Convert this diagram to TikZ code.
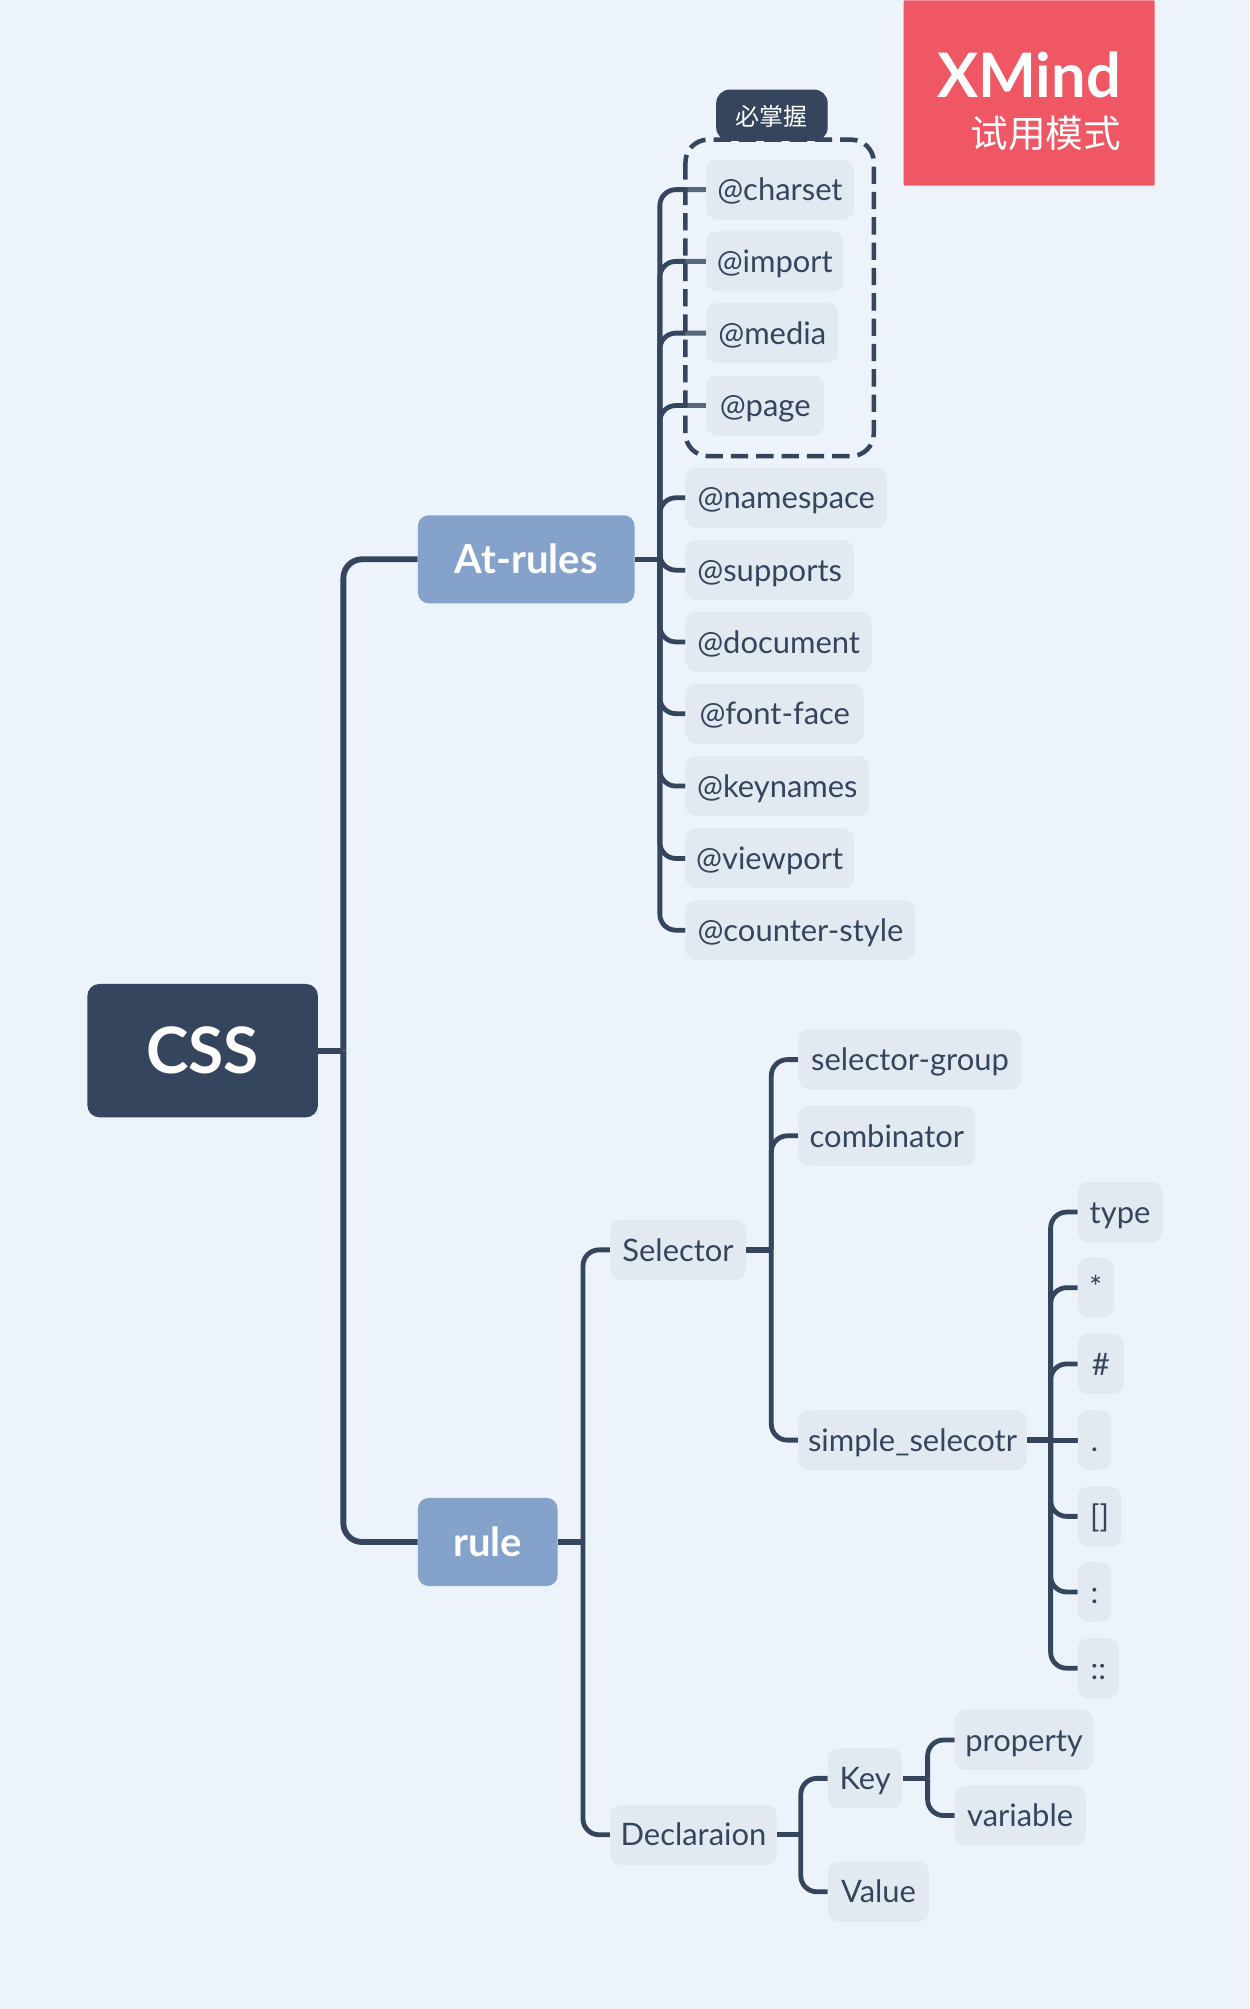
\documentclass[tikz,border=0pt]{standalone}
\usepackage{fontspec}
\setmainfont{Lato}
\newfontfamily\cjk{Noto Sans CJK SC}
\usepackage{tikz}
\usetikzlibrary{backgrounds}
\definecolor{MapPage}{HTML}{ECF3FA}
\definecolor{MapDark}{HTML}{34455D}
\definecolor{MapBlue}{HTML}{85A2CA}
\definecolor{MapTopic}{HTML}{E3E9F0}
\definecolor{MapRed}{HTML}{EE5763}
\tikzset{
    % Root topic style
    rootnode/.style={
        fill=MapDark,
        text=white,
        rounded corners=9pt,
        anchor=west,
        minimum height=100pt,
        font=\fontsize{48}{48}\selectfont\bfseries
    },
    % Main branch style
    branchnode/.style={
        fill=MapBlue,
        text=white,
        rounded corners=8pt,
        anchor=west,
        minimum height=66pt,
        font=\fontsize{30}{30}\selectfont\bfseries
    },
    % Small topic style
    topicnode/.style={
        fill=MapTopic,
        text=MapDark,
        rounded corners=8pt,
        anchor=west,
        inner xsep=0pt,
        minimum height=45pt,
        text height=19pt,
        text depth=2.2pt,
        font=\fontsize{23.2}{23.2}\selectfont
    },
    % Connector from a parent to its trunk
    stubline/.style={
        line width=4pt,
        draw=MapDark
    },
    % Connector from a trunk to a child
    branchline/.style={
        line width=3.6pt,
        draw=MapDark,
        rounded corners=12pt
    }
}
\begin{document}
\begin{tikzpicture}[x=0.9607pt,y=-0.9607pt]
    \useasboundingbox (0,0) rectangle (975,1568);

    % Root and main branches
    \node[rootnode,minimum width=172.9pt] (css) at (68,820) {CSS};
    \node[branchnode,minimum width=162.4pt] (atrules) at (326,436.5) {At-rules};
    \node[branchnode,minimum width=104.7pt] (rule) at (326,1203.5) {rule};

    % At-rules, marked group
    \node[topicnode,minimum width=110.5pt] (charset) at (551,148) {@charset};
    \node[topicnode,minimum width=102.8pt] (import) at (551,204) {@import};
    \node[topicnode,minimum width=99pt] (media) at (551,260) {@media};
    \node[topicnode,minimum width=88.4pt] (page) at (551,316.5) {@page};

    % At-rules, others
    \node[topicnode,minimum width=150.8pt] (namespace) at (535,388.5) {@namespace};
    \node[topicnode,minimum width=125.9pt] (supports) at (535,445) {@supports};
    \node[topicnode,minimum width=139.3pt] (document) at (535,501) {@document};
    \node[topicnode,minimum width=133.5pt] (fontface) at (535,557) {@font-face};
    \node[topicnode,minimum width=137.4pt] (keynames) at (535,613.5) {@keynames};
    \node[topicnode,minimum width=125.9pt] (viewport) at (535,670) {@viewport};
    \node[topicnode,minimum width=172pt] (counterstyle) at (535,726) {@counter-style};

    % rule, level 2
    \node[topicnode,minimum width=101.8pt] (selector) at (476,975.5) {Selector};
    \node[topicnode,minimum width=124.9pt] (declaraion) at (476,1432) {Declaraion};

    % Selector, level 3
    \node[topicnode,minimum width=167.2pt] (selectorgroup) at (623,827) {selector-group};
    \node[topicnode,minimum width=132.6pt] (combinator) at (623,886.5) {combinator};
    \node[topicnode,minimum width=171pt] (simple) at (623,1124) {simple\_selecotr};

    % simple_selecotr, level 4
    \node[topicnode,minimum width=63.4pt] (type) at (841,946) {type};
    \node[topicnode,minimum width=26.9pt] (universal) at (841,1005) {*};
    \node[topicnode,minimum width=34.6pt] (hash) at (841,1064.5) {\#};
    \node[topicnode,minimum width=25pt] (dot) at (841,1124) {.};
    \node[topicnode,minimum width=32.7pt] (brackets) at (841,1183.5) {[]};
    \node[topicnode,minimum width=25pt] (colon) at (841,1242.5) {:};
    \node[topicnode,minimum width=30.7pt] (dcolon) at (841,1302) {::};

    % Declaraion, level 3
    \node[topicnode,minimum width=55.7pt] (key) at (646,1388) {Key};
    \node[topicnode,minimum width=75.9pt] (value) at (646,1476.5) {Value};

    % Key, level 4
    \node[topicnode,minimum width=103.8pt] (property) at (745,1358) {property};
    \node[topicnode,minimum width=98pt] (variable) at (745,1417) {variable};

    % Watermark
    \node[fill=MapRed,rounded corners=1pt,minimum width=188.3pt,minimum height=139pt,anchor=north west,inner sep=0pt] (mark) at (705,0) {};
    \node[text=white,anchor=base east,inner sep=0pt,font=\fontsize{46}{46}\selectfont\bfseries] (markname) at (875,76) {XMind};
    \node[text=white,anchor=base east,inner sep=0pt,font=\fontsize{28.2}{28.2}\cjk] (marktext) at (875,115.5) {试用模式};

    % Trunks
    \coordinate (csstrunk) at (268,820);
    \coordinate (attrunk) at (515,436.5);
    \coordinate (ruletrunk) at (455,1203.5);
    \coordinate (seltrunk) at (602,975.5);
    \coordinate (simpletrunk) at (820,1124);
    \coordinate (decltrunk) at (625,1432);
    \coordinate (keytrunk) at (724,1388);

    \begin{scope}[on background layer]
        \fill[MapPage] (0,0) rectangle (975,1568);

        % Arrows
        \draw[stubline,line width=4.4pt] (css.east) -- (csstrunk);
        \draw[stubline,line width=4.4pt,rounded corners=14pt] (csstrunk) |- (atrules.west);
        \draw[stubline,line width=4.4pt,rounded corners=14pt] (csstrunk) |- (rule.west);

        \draw[stubline] (atrules.east) -- (attrunk);
        \draw[branchline] (attrunk) |- (charset.west);
        \draw[branchline] (attrunk) |- (import.west);
        \draw[branchline] (attrunk) |- (media.west);
        \draw[branchline] (attrunk) |- (page.west);
        \draw[branchline] (attrunk) |- (namespace.west);
        \draw[branchline] (attrunk) |- (supports.west);
        \draw[branchline] (attrunk) |- (document.west);
        \draw[branchline] (attrunk) |- (fontface.west);
        \draw[branchline] (attrunk) |- (keynames.west);
        \draw[branchline] (attrunk) |- (viewport.west);
        \draw[branchline] (attrunk) |- (counterstyle.west);

        \draw[stubline] (rule.east) -- (ruletrunk);
        \draw[branchline] (ruletrunk) |- (selector.west);
        \draw[branchline] (ruletrunk) |- (declaraion.west);

        \draw[stubline] (selector.east) -- (seltrunk);
        \draw[branchline] (seltrunk) |- (selectorgroup.west);
        \draw[branchline] (seltrunk) |- (combinator.west);
        \draw[branchline] (seltrunk) |- (simple.west);

        \draw[stubline] (simple.east) -- (simpletrunk);
        \draw[branchline] (simpletrunk) |- (type.west);
        \draw[branchline] (simpletrunk) |- (universal.west);
        \draw[branchline] (simpletrunk) |- (hash.west);
        \draw[branchline] (simpletrunk) -- (dot.west);
        \draw[branchline] (simpletrunk) |- (brackets.west);
        \draw[branchline] (simpletrunk) |- (colon.west);
        \draw[branchline] (simpletrunk) |- (dcolon.west);

        \draw[stubline] (declaraion.east) -- (decltrunk);
        \draw[branchline] (decltrunk) |- (key.west);
        \draw[branchline] (decltrunk) |- (value.west);

        \draw[stubline] (key.east) -- (keytrunk);
        \draw[branchline] (keytrunk) |- (property.west);
        \draw[branchline] (keytrunk) |- (variable.west);

        % Dashed group around the marked topics
        \draw[MapDark,line width=3.4pt,dash pattern=on 13pt off 6pt,fill=MapPage,fill opacity=0.2,draw opacity=1,rounded corners=17pt] (535,109) rectangle (682,356);
    \end{scope}

    % Group tag
    \fill[MapDark,rounded corners=10pt] (559,110) -- (559,70) -- (646,70) -- (646,110) -- cycle;
    \node[text=white,inner sep=0pt,font=\fontsize{18}{18}\cjk] (tag) at (602.5,90.5) {必掌握};
\end{tikzpicture}
\end{document}
